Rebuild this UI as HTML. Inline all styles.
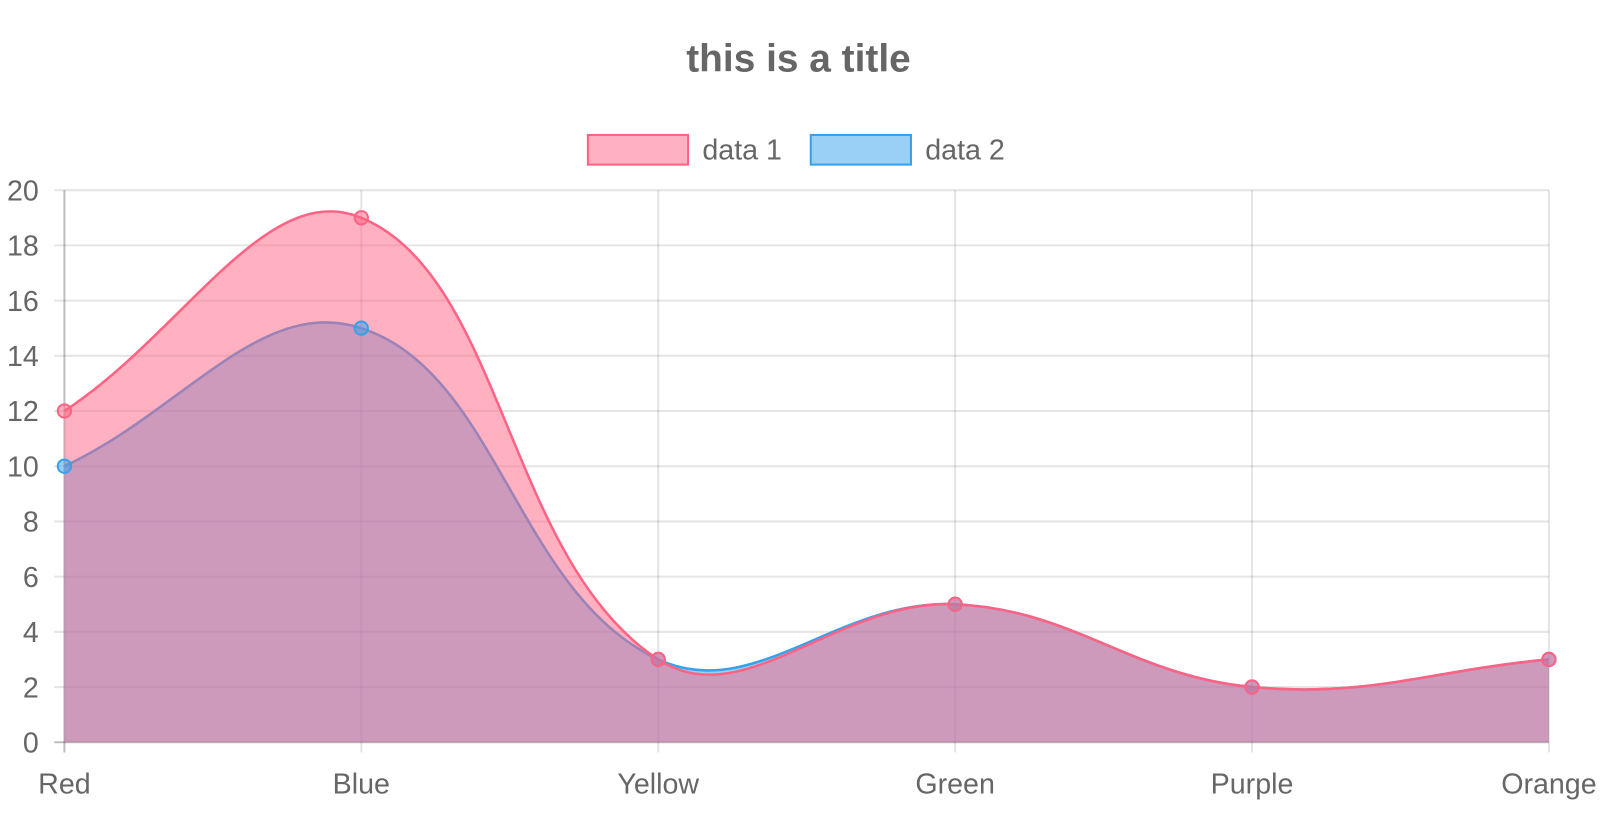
<!DOCTYPE html>
<html><head><meta charset="utf-8"><style>
html,body{margin:0;padding:0;background:#fff;width:1600px;height:835px;overflow:hidden}
svg text{font-family:"Liberation Sans",Arial,sans-serif;fill:#666}
</style></head><body>
<svg width="1600" height="835" xmlns="http://www.w3.org/2000/svg">
<g id="root" transform="scale(1.0224)">
<text x="781" y="70" font-size="38" font-weight="bold" text-anchor="middle">this is a title</text>
<g>
<g>
<rect x="575" y="132" width="98" height="29" fill="rgba(255,99,132,0.5)" stroke="rgb(255,99,132)" stroke-width="2"/>
<text x="687" y="156" font-size="28">data 1</text></g>
<g>
<rect x="793" y="132" width="98" height="29" fill="rgba(54,162,235,0.5)" stroke="rgb(54,162,235)" stroke-width="2"/>
<text x="905" y="156" font-size="28">data 2</text></g>
</g>
<g id="grid"></g>
<g id="series"></g>
<g id="ticks"></g>
</g>
</svg>
<script>
const categories=["Red","Blue","Yellow","Green","Purple","Orange"];
const data1=[12,19,3,5,2,3];
const data2=[10,15,3,5,2,3];
const yTicks=[0,2,4,6,8,10,12,14,16,18,20];
const NS="http://www.w3.org/2000/svg";
const L=63,R=1515,T=186,B=726,yMax=20;
function xs(i){return L+(R-L)*i/(categories.length-1);}
function ys(v){return B-(B-T)*v/yMax;}
function mk(t,a,p){const e=document.createElementNS(NS,t);for(const k in a)e.setAttribute(k,a[k]);p.appendChild(e);return e;}
const grid=document.getElementById('grid'),ticks=document.getElementById('ticks'),series=document.getElementById('series');
yTicks.forEach(v=>{const y=ys(v);
 const l=mk('line',{x1:L-10,x2:R,y1:y,y2:y,stroke:v===0?'rgba(0,0,0,0.25)':'rgba(0,0,0,0.1)','stroke-width':2},grid);
 
 
 const t=mk('text',{x:38,y:y+10,'font-size':28,'text-anchor':'end'},ticks);t.textContent=v;
 
 
});
categories.forEach((c,i)=>{const x=xs(i);
 const l=mk('line',{x1:x,x2:x,y1:T,y2:B+10,stroke:i===0?'rgba(0,0,0,0.25)':'rgba(0,0,0,0.1)','stroke-width':2},grid);
 
 
 const t=mk('text',{x:x,y:776,'font-size':28,'text-anchor':'middle'},ticks);t.textContent=c;
 
 
});
function path(vals){
 const p=vals.map((v,i)=>({x:xs(i),y:ys(v)}));const t=0.4;const cps=[];
 for(let i=0;i<p.length;i++){const pr=p[Math.max(0,i-1)],cu=p[i],nx=p[Math.min(p.length-1,i+1)];
  const d01=Math.hypot(cu.x-pr.x,cu.y-pr.y),d12=Math.hypot(nx.x-cu.x,nx.y-cu.y);
  let s01=d01/(d01+d12),s12=d12/(d01+d12);if(isNaN(s01))s01=0;if(isNaN(s12))s12=0;
  const fa=t*s01,fb=t*s12;
  cps.push({p:{x:cu.x-fa*(nx.x-pr.x),y:cu.y-fa*(nx.y-pr.y)},n:{x:cu.x+fb*(nx.x-pr.x),y:cu.y+fb*(nx.y-pr.y)}});}
 let d=`M${p[0].x},${p[0].y}`;
 for(let i=1;i<p.length;i++){d+=` C${cps[i-1].n.x},${cps[i-1].n.y} ${cps[i].p.x},${cps[i].p.y} ${p[i].x},${p[i].y}`;}
 return {d,p};
}
function draw(vals,fill,stroke,name){
 const r=path(vals);
 const a=mk('path',{d:r.d+` L${xs(vals.length-1)},${ys(0)} L${xs(0)},${ys(0)} Z`,fill:fill},series);
 
 
 const l=mk('path',{d:r.d,fill:'none',stroke:stroke,'stroke-width':2.5},series);
 
 
 return r.p;
}
const p2=draw(data2,'rgba(54,162,235,0.5)','rgb(54,162,235)','data-2');
const p1=draw(data1,'rgba(255,99,132,0.5)','rgb(255,99,132)','data-1');
[[p2,'rgba(54,162,235,0.5)','rgb(54,162,235)','data-2'],[p1,'rgba(255,99,132,0.5)','rgb(255,99,132)','data-1']].forEach(([pts,f,s,n])=>{
 pts.forEach(q=>{const c=mk('circle',{cx:q.x,cy:q.y,r:6.5,fill:f,stroke:s,'stroke-width':2},series);
  
  });
});
</script>
</body></html>
